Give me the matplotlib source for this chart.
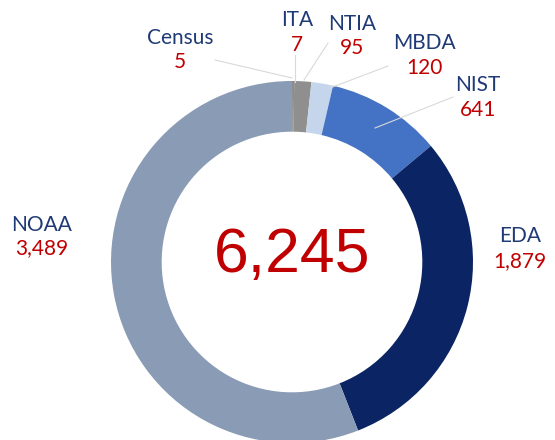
import matplotlib.pyplot as plt

# bureau counts (clockwise from 12 o'clock)
bureaus = ['Census', 'ITA', 'NTIA', 'MBDA', 'NIST', 'EDA', 'NOAA']
counts = [5, 7, 95, 120, 641, 1879, 3489]
count_labels = ['5', '7', '95', '120', '641', '1,879', '3,489']
total_label = '6,245'
colors = ['#7f7f7f', '#8c8c8c', '#8f8f8f', '#c5d6ec', '#4472c4', '#0b2463', '#8a9bb5']

W, H = 555, 440
navy = '#1f3a75'
red = '#c00000'

fig = plt.figure(figsize=(W / 100, H / 100), dpi=100)
ax = fig.add_axes([0, 0, 1, 1])

# pixel coords -> data coords (y flipped)
def py(y):
    return H - y

cx, cy, r = 292, 262, 181
ax.pie(counts, colors=colors, startangle=90, counterclock=False,
       center=(cx, py(cy)), radius=r,
       wedgeprops=dict(width=r * 0.28, linewidth=0))

ax.set_xlim(0, W)
ax.set_ylim(0, H)
ax.set_aspect('equal')
ax.axis('off')

# label positions in pixels: (name x, name y, value y)
label_pos = {
    'Census': (180, 38, 62),
    'ITA': (297, 20, 45),
    'NTIA': (352, 24, 48),
    'MBDA': (424, 43, 68),
    'NIST': (478, 85, 110),
    'EDA': (520, 236, 261),
    'NOAA': (42, 225, 248),
}
for name, val in zip(bureaus, count_labels):
    x, y1, y2 = label_pos[name]
    ax.text(x, py(y1), name, color=navy, fontsize=15, family='Lato',
            ha='center', va='center')
    ax.text(x, py(y2), val, color=red, fontsize=15, family='Lato',
            ha='center', va='center')

# leader lines
leaders = [
    ((215, 60), (292, 78)),
    ((295, 55), (295, 82)),
    ((328, 43), (304, 80)),
    ((388, 66), (330, 88)),
    ((453, 97), (375, 128)),
]
for (x1, y1), (x2, y2) in leaders:
    ax.plot([x1, x2], [py(y1), py(y2)], color='#d9d9d9', linewidth=0.8)

ax.text(cx, py(256), total_label, color=red, fontsize=45,
        family='Liberation Sans', ha='center', va='center')

fig.savefig('out.png', dpi=100)
